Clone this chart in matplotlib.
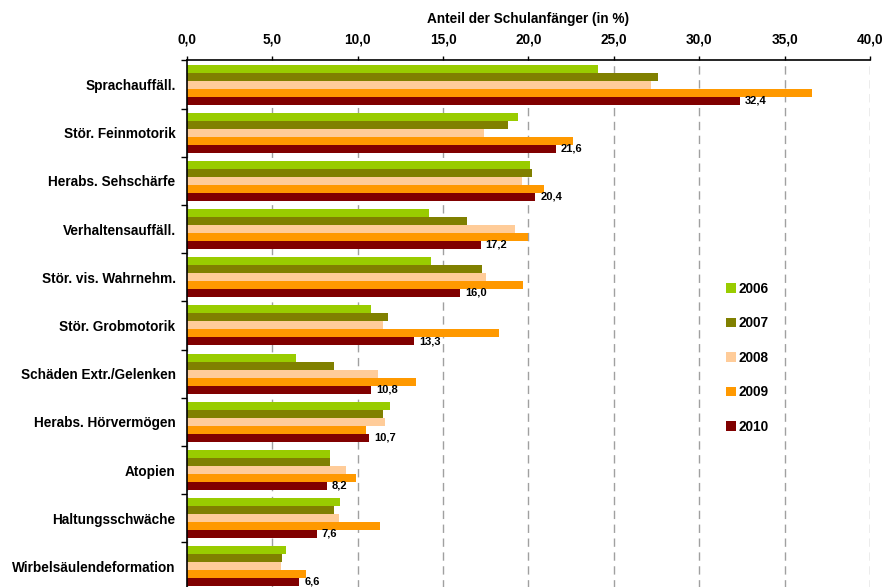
import numpy as np
import matplotlib
matplotlib.use('Agg')
from matplotlib import pyplot as plt
from matplotlib.patches import Patch

plt.rcParams['font.family'] = ['Liberation Sans', 'DejaVu Sans']
plt.rcParams['font.weight'] = 'bold'

categories = ['Sprachauffäll.', 'Stör. Feinmotorik', 'Herabs. Sehschärfe',
              'Verhaltensauffäll.', 'Stör. vis. Wahrnehm.', 'Stör. Grobmotorik',
              'Schäden Extr./Gelenken', 'Herabs. Hörvermögen', 'Atopien',
              'Haltungsschwäche', 'Wirbelsäulendeformation']
years = ['2006', '2007', '2008', '2009', '2010']
v2006 = [24.1, 19.4, 20.1, 14.2, 14.3, 10.8, 6.4, 11.9, 8.4, 9.0, 5.8]
v2007 = [27.6, 18.8, 20.2, 16.4, 17.3, 11.8, 8.6, 11.5, 8.4, 8.6, 5.6]
v2008 = [27.2, 17.4, 19.6, 19.2, 17.5, 11.5, 11.2, 11.6, 9.3, 8.9, 5.5]
v2009 = [36.6, 22.6, 20.9, 20.0, 19.7, 18.3, 13.4, 10.5, 9.9, 11.3, 7.0]
v2010 = [32.4, 21.6, 20.4, 17.2, 16.0, 13.3, 10.8, 10.7, 8.2, 7.6, 6.6]
colors = ['#99CC00', '#808000', '#FFCC99', '#FF9900', '#800000']

series = [v2006, v2007, v2008, v2009, v2010]
fs = 9.8

fig = plt.figure(figsize=(8.85, 5.87), dpi=100)
ax = fig.add_axes([0.211, -0.006, 0.772, 0.903])

n = len(categories)
y = np.arange(n)
bh = 0.166
for i, (vals, c) in enumerate(zip(series, colors)):
    ax.barh(y + (i - 2) * bh, vals, height=bh, color=c, zorder=3)

for yi, v in zip(y, v2010):
    ax.text(v + 0.3, yi + 2 * bh - 0.01, f'{v:.1f}'.replace('.', ','),
            va='center', ha='left', fontsize=8, fontweight='bold', zorder=4)

ax.set_xlim(0, 40)
ax.set_ylim(n - 0.5, -0.5)
ax.xaxis.tick_top()
ax.xaxis.set_label_position('top')
ax.set_xticks(np.arange(0, 41, 5))
ax.set_xticklabels([f'{t:.1f}'.replace('.', ',') for t in np.arange(0, 41, 5)],
                   fontsize=fs, fontweight='bold')
ax.set_xlabel('Anteil der Schulanfänger (in %)', fontsize=fs, fontweight='bold',
              labelpad=7)
ax.tick_params(axis='x', direction='out', length=3, width=1, pad=7)

ax.set_yticks(y)
ax.set_yticklabels(categories, fontsize=fs, fontweight='bold')
ax.set_yticks(np.arange(n + 1) - 0.5, minor=True)
ax.tick_params(axis='y', which='major', length=0, pad=8)
ax.tick_params(axis='y', which='minor', direction='out', length=4, width=1)

for s in ['right', 'bottom']:
    ax.spines[s].set_visible(False)
for s in ['left', 'top']:
    ax.spines[s].set_linewidth(1.2)
    ax.spines[s].set_zorder(5)

ax.grid(axis='x', color='#a0a0a0', linestyle=(0, (6, 4)), linewidth=1, zorder=1)
ax.grid(axis='y', visible=False)

handles = [Patch(facecolor=c, edgecolor='none') for c in colors]
fig.legend(handles, years, loc='upper left', bbox_to_anchor=(0.8065, 0.5405),
           frameon=False, handlelength=0.7, handleheight=0.7,
           handletextpad=0.2, labelspacing=1.5, prop={'weight': 'bold', 'size': fs})

fig.savefig('out.png', dpi=100)
